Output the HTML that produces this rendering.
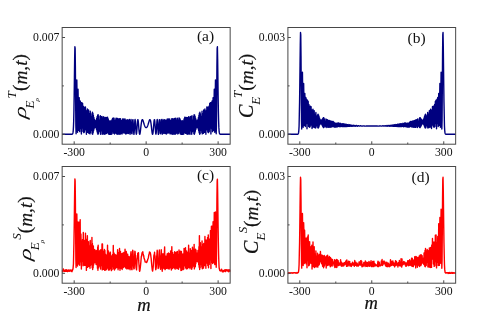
<!DOCTYPE html>
<html><head><meta charset="utf-8"><title>figure</title>
<style>
html,body{margin:0;padding:0;background:#fff;}
body{width:480px;height:333px;overflow:hidden;font-family:"Liberation Serif",serif;}
svg{display:block;will-change:transform;}
text{font-family:"Liberation Serif",serif;fill:#111;}
.tl{font-size:13.2px;}
.tag{font-size:15.5px;}
.xl{font-size:18.5px;font-style:italic;stroke:#111;stroke-width:0.2px;}
.yl{font-size:19.3px;font-style:italic;stroke:#111;stroke-width:0.2px;}
.ys{font-size:13px;font-style:italic;}
.yss{font-size:7px;font-style:italic;}
.up{font-style:normal;}
</style></head><body>
<svg width="480" height="333" viewBox="0 0 480 333">
<rect width="480" height="333" fill="#fff"/>
<polyline points="62.15,134.3 62.42,134.3 62.66,134.3 62.9,134.3 63.14,134.3 63.38,134.3 63.62,134.3 63.86,134.3 64.1,134.3 64.34,134.3 64.58,134.3 64.82,134.3 65.06,134.3 65.3,134.3 65.54,134.3 65.78,134.3 66.02,134.3 66.26,134.3 66.5,134.3 66.74,134.3 66.98,134.3 67.22,134.3 67.46,134.3 67.7,134.3 67.94,134.3 68.18,134.3 68.42,134.3 68.66,134.3 68.9,134.3 69.14,134.3 69.38,134.3 69.62,134.3 69.86,134.3 70.1,134.3 70.34,134.3 70.58,134.3 70.82,134.3 71.06,134.3 71.3,134.3 71.54,134.3 71.78,134.29 72.02,134.26 72.26,134.19 72.5,134.02 72.74,133.6 72.98,132.69 73.22,130.79 73.46,127.14 73.7,120.67 73.94,110.28 74.18,95.41 74.42,77.03 74.66,58.73 74.9,46.81 75.14,48.4 75.38,67.02 75.62,97.6 75.86,125.52 76.1,133.85 76.34,117.11 76.58,90.3 76.82,79.9 77.06,98.36 77.3,126.78 77.54,132.26 77.78,108.67 78.02,89.21 78.26,103.2 78.5,130.34 78.74,128.01 78.98,101.1 79.22,97.82 79.46,124.95 79.7,131.62 79.94,105.65 80.18,100.99 80.42,128.01 80.66,128.52 80.9,102.4 81.14,110.61 81.38,134.04 81.62,116.54 81.86,102.65 82.1,128.07 82.34,127.04 82.58,103.34 82.82,121.75 83.06,131.54 83.3,106.09 83.54,118.97 83.78,132.67 84.02,107.48 84.26,119.84 84.5,131.98 84.74,107.17 84.98,123.88 85.22,128.92 85.46,107 85.7,129.92 85.94,122.15 86.18,110.6 86.41,134.21 86.65,112.98 86.89,120.71 87.13,130.38 87.37,108.96 87.61,132.39 87.85,117.3 88.09,118.74 88.33,131.3 88.57,109.96 88.81,133.24 89.05,115.3 89.29,123.55 89.53,126.92 89.77,113.57 90.01,133.89 90.25,111.16 90.49,132.49 90.73,116.12 90.97,125.78 91.21,123.92 91.45,118.54 91.69,130.38 91.93,113.82 92.17,133.74 92.41,112.28 92.65,134.19 92.89,113.12 93.13,132.85 93.37,115.14 93.61,130.85 93.85,117.38 94.09,128.97 94.33,119.24 94.57,127.63 94.81,120.44 95.05,127 95.29,120.9 95.53,127.11 95.77,120.61 96.01,127.95 96.25,119.63 96.49,129.4 96.73,118.12 96.97,131.25 97.21,116.38 97.45,133.09 97.69,114.96 97.93,134.22 98.17,114.65 98.41,133.8 98.65,116.31 98.89,131.09 99.13,120.4 99.37,126.06 99.61,126.34 99.85,120.03 100.09,132.03 100.33,115.79 100.57,134.28 100.81,116.4 101.05,130.83 101.29,122.67 101.53,122.94 101.77,130.92 102.01,116.41 102.25,134.23 102.49,117.71 102.73,128.52 102.97,126.76 103.21,118.9 103.45,134.07 103.69,116.79 103.93,130.05 104.17,126.01 104.41,119.22 104.65,134.19 104.89,117.65 105.13,128.24 105.37,128.83 105.61,117.37 105.85,133.85 106.09,121.41 106.33,122.8 106.57,133.4 106.81,117.35 107.05,128.73 107.29,129.62 107.53,117.12 107.77,132.47 108.01,125.57 108.25,118.88 108.49,134 108.73,122.69 108.97,120.87 109.21,134.3 109.45,121.18 109.69,122.16 109.93,134.25 110.17,120.79 110.4,122.42 110.64,134.27 110.88,121.35 111.12,121.64 111.36,134.27 111.6,122.98 111.84,120.06 112.08,133.72 112.32,125.84 112.56,118.35 112.8,131.73 113.04,129.72 113.28,117.87 113.52,127.63 113.76,133.32 114,120.31 114.24,122.09 114.48,134.04 114.72,126.23 114.96,118.21 115.2,129.59 115.44,132.73 115.68,120.29 115.92,121.77 116.16,133.58 116.4,128.51 116.64,118.31 116.88,125.89 117.12,134.29 117.36,125.24 117.6,118.48 117.84,128.32 118.08,133.96 118.32,123.86 118.56,118.83 118.8,128.88 119.04,133.94 119.28,124.28 119.52,118.7 119.76,127.68 120,134.27 120.24,126.48 120.48,118.64 120.72,124.67 120.96,133.79 121.2,130.3 121.44,120.38 121.68,120.65 121.92,130.46 122.16,133.89 122.4,125.68 122.64,118.83 122.88,123.74 123.12,132.81 123.36,132.65 123.6,123.74 123.84,118.89 124.08,124.73 124.32,133.06 124.56,132.73 124.8,124.41 125.04,118.98 125.28,123.17 125.52,131.58 125.76,133.99 126,127.74 126.24,120.3 126.48,120.09 126.72,127.13 126.96,133.62 127.2,132.76 127.44,125.67 127.68,119.69 127.92,120.64 128.16,127.4 128.4,133.45 128.64,133.33 128.88,127.37 129.12,120.93 129.36,119.46 129.6,123.98 129.84,130.67 130.08,134.25 130.32,132.15 130.56,126.15 130.8,120.68 131.04,119.5 131.28,123.22 131.52,129.22 131.76,133.62 132,133.8 132.24,129.85 132.48,124.24 132.72,120.14 132.96,119.68 133.2,122.91 133.44,128.05 133.68,132.53 133.92,134.3 134.16,132.73 134.39,128.67 134.63,123.95 134.87,120.47 135.11,119.48 135.35,121.21 135.59,124.87 135.83,129.13 136.07,132.58 136.31,134.23 136.55,133.71 136.79,131.32 137.03,127.83 137.27,124.2 137.51,121.29 137.75,119.73 137.99,119.72 138.23,121.16 138.47,123.64 138.71,126.63 138.95,129.57 139.19,132.01 139.43,133.63 139.67,134.29 139.91,133.99 140.15,132.88 140.39,131.17 140.63,129.1 140.87,126.93 141.11,124.85 141.35,123.02 141.59,121.56 141.83,120.5 142.07,119.87 142.31,119.61 142.55,119.7 142.79,120.06 143.03,120.63 143.27,121.34 143.51,122.13 143.75,122.95 143.99,123.76 144.23,124.53 144.47,125.23 144.71,125.86 144.95,126.39 145.19,126.83 145.43,127.17 145.67,127.42 145.91,127.57 146.15,127.61 146.39,127.57 146.63,127.42 146.87,127.17 147.11,126.83 147.35,126.39 147.59,125.86 147.83,125.23 148.07,124.53 148.31,123.76 148.55,122.95 148.79,122.13 149.03,121.34 149.27,120.63 149.51,120.06 149.75,119.7 149.99,119.61 150.23,119.87 150.47,120.5 150.71,121.56 150.95,123.02 151.19,124.85 151.43,126.93 151.67,129.1 151.91,131.17 152.15,132.88 152.39,133.99 152.63,134.29 152.87,133.63 153.11,132.01 153.35,129.57 153.59,126.63 153.83,123.64 154.07,121.16 154.31,119.72 154.55,119.73 154.79,121.29 155.03,124.2 155.27,127.83 155.51,131.32 155.75,133.71 155.99,134.23 156.23,132.58 156.47,129.13 156.71,124.87 156.95,121.21 157.19,119.48 157.43,120.47 157.67,123.95 157.91,128.67 158.15,132.73 158.38,134.3 158.62,132.53 158.86,128.05 159.1,122.91 159.34,119.68 159.58,120.14 159.82,124.24 160.06,129.85 160.3,133.8 160.54,133.62 160.78,129.22 161.02,123.22 161.26,119.5 161.5,120.68 161.74,126.15 161.98,132.15 162.22,134.25 162.46,130.67 162.7,123.98 162.94,119.46 163.18,120.93 163.42,127.37 163.66,133.33 163.9,133.45 164.14,127.4 164.38,120.64 164.62,119.69 164.86,125.67 165.1,132.76 165.34,133.62 165.58,127.13 165.82,120.09 166.06,120.3 166.3,127.74 166.54,133.99 166.78,131.58 167.02,123.17 167.26,118.98 167.5,124.41 167.74,132.73 167.98,133.06 168.22,124.73 168.46,118.89 168.7,123.74 168.94,132.65 169.18,132.81 169.42,123.74 169.66,118.83 169.9,125.68 170.14,133.89 170.38,130.46 170.62,120.65 170.86,120.38 171.1,130.3 171.34,133.79 171.58,124.67 171.82,118.64 172.06,126.48 172.3,134.27 172.54,127.68 172.78,118.7 173.02,124.28 173.26,133.94 173.5,128.88 173.74,118.83 173.98,123.86 174.22,133.96 174.46,128.32 174.7,118.48 174.94,125.24 175.18,134.29 175.42,125.89 175.66,118.31 175.9,128.51 176.14,133.58 176.38,121.77 176.62,120.29 176.86,132.73 177.1,129.59 177.34,118.21 177.58,126.23 177.82,134.04 178.06,122.09 178.3,120.31 178.54,133.32 178.78,127.63 179.02,117.87 179.26,129.72 179.5,131.73 179.74,118.35 179.98,125.84 180.22,133.72 180.46,120.06 180.7,122.98 180.94,134.27 181.18,121.64 181.42,121.35 181.66,134.27 181.9,122.42 182.13,120.79 182.37,134.25 182.61,122.16 182.85,121.18 183.09,134.3 183.33,120.87 183.57,122.69 183.81,134 184.05,118.88 184.29,125.57 184.53,132.47 184.77,117.12 185.01,129.62 185.25,128.73 185.49,117.35 185.73,133.4 185.97,122.8 186.21,121.41 186.45,133.85 186.69,117.37 186.93,128.83 187.17,128.24 187.41,117.65 187.65,134.19 187.89,119.22 188.13,126.01 188.37,130.05 188.61,116.79 188.85,134.07 189.09,118.9 189.33,126.76 189.57,128.52 189.81,117.71 190.05,134.23 190.29,116.41 190.53,130.92 190.77,122.94 191.01,122.67 191.25,130.83 191.49,116.4 191.73,134.28 191.97,115.79 192.21,132.03 192.45,120.03 192.69,126.34 192.93,126.06 193.17,120.4 193.41,131.09 193.65,116.31 193.89,133.8 194.13,114.65 194.37,134.22 194.61,114.96 194.85,133.09 195.09,116.38 195.33,131.25 195.57,118.12 195.81,129.4 196.05,119.63 196.29,127.95 196.53,120.61 196.77,127.11 197.01,120.9 197.25,127 197.49,120.44 197.73,127.63 197.97,119.24 198.21,128.97 198.45,117.38 198.69,130.85 198.93,115.14 199.17,132.85 199.41,113.12 199.65,134.19 199.89,112.28 200.13,133.74 200.37,113.82 200.61,130.38 200.85,118.54 201.09,123.92 201.33,125.78 201.57,116.12 201.81,132.49 202.05,111.16 202.29,133.89 202.53,113.57 202.77,126.92 203.01,123.55 203.25,115.3 203.49,133.24 203.73,109.96 203.97,131.3 204.21,118.74 204.45,117.3 204.69,132.39 204.93,108.96 205.17,130.38 205.41,120.71 205.65,112.98 205.89,134.21 206.12,110.6 206.36,122.15 206.6,129.92 206.84,107 207.08,128.92 207.32,123.88 207.56,107.17 207.8,131.98 208.04,119.84 208.28,107.48 208.52,132.67 208.76,118.97 209,106.09 209.24,131.54 209.48,121.75 209.72,103.34 209.96,127.04 210.2,128.07 210.44,102.65 210.68,116.54 210.92,134.04 211.16,110.61 211.4,102.4 211.64,128.52 211.88,128.01 212.12,100.99 212.36,105.65 212.6,131.62 212.84,124.95 213.08,97.82 213.32,101.1 213.56,128.01 213.8,130.34 214.04,103.2 214.28,89.21 214.52,108.67 214.76,132.26 215,126.78 215.24,98.36 215.48,79.9 215.72,90.3 215.96,117.11 216.2,133.85 216.44,125.52 216.68,97.6 216.92,67.02 217.16,48.4 217.4,46.81 217.64,58.73 217.88,77.03 218.12,95.41 218.36,110.28 218.6,120.67 218.84,127.14 219.08,130.79 219.32,132.69 219.56,133.6 219.8,134.02 220.04,134.19 220.28,134.26 220.52,134.29 220.76,134.3 221,134.3 221.24,134.3 221.48,134.3 221.72,134.3 221.96,134.3 222.2,134.3 222.44,134.3 222.68,134.3 222.92,134.3 223.16,134.3 223.4,134.3 223.64,134.3 223.88,134.3 224.12,134.3 224.36,134.3 224.6,134.3 224.84,134.3 225.08,134.3 225.32,134.3 225.56,134.3 225.8,134.3 226.04,134.3 226.28,134.3 226.52,134.3 226.76,134.3 227,134.3 227.24,134.3 227.48,134.3 227.72,134.3 227.96,134.3 228.2,134.3 228.44,134.3 228.68,134.3 228.92,134.3 229.16,134.3 229.4,134.3 229.64,134.3 229.88,134.3 230.15,134.3" fill="none" stroke="#00007f" stroke-width="1.4" stroke-linejoin="round"/>
<rect x="62.15" y="27.5" width="168" height="116.7" fill="none" stroke="#484848" stroke-width="1"/>
<path d="M62.15 37.5h2.9M62.15 134.3h2.9M62.15 85.9h1.7M74.18 144.2v-2.9M146.15 144.2v-2.9M218.12 144.2v-2.9M110.17 144.2v-1.7M182.13 144.2v-1.7" stroke="#484848" stroke-width="1" fill="none"/>
<text transform="translate(74.18,155.5) scale(0.89,1)" class="tl" text-anchor="middle">-300</text>
<text transform="translate(146.15,155.5) scale(0.89,1)" class="tl" text-anchor="middle">0</text>
<text transform="translate(218.12,155.5) scale(0.89,1)" class="tl" text-anchor="middle">300</text>
<text transform="translate(59.45,41.2) scale(0.89,1)" class="tl" text-anchor="end">0.007</text>
<text transform="translate(59.45,137.8) scale(0.89,1)" class="tl" text-anchor="end">0.000</text>
<text x="196.9" y="40.6" class="tag">(a)</text>
<polyline points="287.9,134.3 288.05,134.3 288.29,134.3 288.53,134.3 288.77,134.3 289.01,134.3 289.25,134.3 289.49,134.3 289.73,134.3 289.97,134.3 290.21,134.3 290.45,134.3 290.69,134.3 290.93,134.3 291.17,134.3 291.41,134.3 291.65,134.3 291.89,134.3 292.13,134.3 292.37,134.3 292.61,134.3 292.85,134.3 293.09,134.3 293.33,134.3 293.57,134.3 293.81,134.3 294.05,134.3 294.29,134.3 294.53,134.3 294.77,134.3 295.01,134.3 295.25,134.3 295.49,134.3 295.73,134.3 295.97,134.3 296.21,134.3 296.45,134.3 296.69,134.3 296.93,134.3 297.17,134.29 297.41,134.28 297.65,134.25 297.89,134.17 298.13,133.96 298.37,133.48 298.61,132.41 298.85,130.22 299.09,126.03 299.33,114.04 299.57,102.28 299.8,85.61 300.04,65.22 300.28,45.19 300.52,32.52 300.76,34.9 301,55.88 301.24,89.6 301.48,119.98 301.72,128.96 301.96,111.11 302.2,82.86 302.44,72.24 302.68,91.86 302.92,121.53 303.16,127.2 303.4,103.1 303.64,83.53 303.88,97.91 304.12,125.24 304.36,122.94 304.6,96.43 304.84,93.44 305.08,120.03 305.32,126.51 305.56,101.63 305.8,97.38 306.04,123.1 306.28,123.59 306.52,99.31 306.76,107.09 307,128.71 307.24,112.77 307.48,100.32 307.72,123.3 307.96,122.41 308.2,101.5 308.44,117.82 308.68,126.4 308.92,104.43 309.16,115.63 309.4,127.36 309.64,106.09 309.88,116.6 310.12,126.75 310.36,106.3 310.6,120.11 310.84,124.25 311.08,106.63 311.32,125.08 311.56,118.93 311.8,109.91 312.04,128.44 312.28,112.01 312.52,118.06 312.76,125.47 313,109.31 313.24,126.99 313.48,115.78 313.72,116.92 313.96,126.17 314.2,110.71 314.44,127.56 314.68,114.78 314.92,120.7 315.16,123.1 315.4,113.85 315.64,127.95 315.88,112.42 316.12,126.97 316.36,115.98 316.6,122.49 316.84,121.29 317.08,117.82 317.32,125.57 317.56,114.93 317.8,127.71 318.04,114.16 318.28,127.97 318.52,114.89 318.76,127.11 319,116.32 319.24,125.88 319.48,117.84 319.72,124.77 319.96,119.08 320.2,124.02 320.44,119.9 320.68,123.7 320.92,120.27 321.16,123.81 321.4,120.22 321.64,124.31 321.88,119.8 322.12,125.12 322.36,119.11 322.6,126.12 322.84,118.34 323.08,127.07 323.32,117.76 323.56,127.63 323.79,117.77 324.03,127.39 324.27,118.75 324.51,126.03 324.75,120.87 324.99,123.63 325.23,123.79 325.47,120.86 325.71,126.47 325.95,119.02 326.19,127.49 326.43,119.44 326.67,125.92 326.91,122.34 327.15,122.5 327.39,125.97 327.63,119.79 327.87,127.36 328.11,120.47 328.35,124.98 328.59,124.28 328.83,121.13 329.07,127.23 329.31,120.41 329.55,125.64 329.79,124.09 330.03,121.52 330.27,127.21 330.51,121.04 330.75,125 330.99,125.22 331.23,121.12 331.47,127.02 331.71,122.65 331.95,123.17 332.19,126.84 332.43,121.4 332.67,125.26 332.91,125.56 333.15,121.5 333.39,126.49 333.63,124.29 333.87,122.22 334.11,126.95 334.35,123.48 334.59,122.96 334.83,127.01 335.07,123.13 335.31,123.46 335.55,126.96 335.79,123.14 336.03,123.63 336.27,126.93 336.51,123.41 336.75,123.52 336.99,126.89 337.23,123.94 337.47,123.22 337.71,126.72 337.95,124.74 338.19,122.92 338.43,126.21 338.67,125.73 338.91,122.94 339.15,125.25 339.39,126.57 339.63,123.62 339.87,124.05 340.11,126.7 340.35,125.01 340.59,123.32 340.83,125.74 341.07,126.39 341.31,123.87 341.55,124.2 341.79,126.55 342.03,125.56 342.27,123.63 342.51,125.08 342.75,126.65 342.99,125 343.23,123.81 343.47,125.57 343.71,126.55 343.95,124.84 344.19,124.02 344.43,125.7 344.67,126.52 344.91,124.99 345.15,124.14 345.39,125.54 345.63,126.54 345.87,125.39 346.11,124.27 346.35,125.15 346.59,126.44 346.83,125.95 347.07,124.63 347.31,124.7 347.55,125.98 347.78,126.41 348.02,125.4 348.26,124.58 348.5,125.19 348.74,126.26 348.98,126.24 349.22,125.25 349.46,124.74 349.7,125.39 349.94,126.27 350.18,126.23 350.42,125.4 350.66,124.89 350.9,125.31 351.14,126.11 351.38,126.33 351.62,125.77 351.86,125.13 352.1,125.14 352.34,125.74 352.58,126.27 352.82,126.2 353.06,125.65 353.3,125.22 353.54,125.31 353.78,125.81 354.02,126.23 354.26,126.22 354.5,125.82 354.74,125.42 354.98,125.35 355.22,125.64 355.46,126.04 355.7,126.25 355.94,126.13 356.18,125.81 356.42,125.53 356.66,125.49 356.9,125.69 357.14,125.98 357.38,126.18 357.62,126.19 357.86,126.02 358.1,125.79 358.34,125.64 358.58,125.64 358.82,125.77 359.06,125.96 359.3,126.12 359.54,126.17 359.78,126.12 360.02,126 360.26,125.86 360.5,125.77 360.74,125.76 360.98,125.82 361.22,125.92 361.46,126.02 361.7,126.1 361.94,126.14 362.18,126.12 362.42,126.08 362.66,126.01 362.9,125.95 363.14,125.91 363.38,125.9 363.62,125.91 363.86,125.93 364.1,125.98 364.34,126.02 364.58,126.05 364.82,126.08 365.06,126.1 365.3,126.1 365.54,126.1 365.78,126.09 366.02,126.07 366.26,126.06 366.5,126.05 366.74,126.04 366.98,126.03 367.22,126.03 367.46,126.03 367.7,126.03 367.94,126.03 368.18,126.04 368.42,126.04 368.66,126.05 368.9,126.05 369.14,126.06 369.38,126.06 369.62,126.06 369.86,126.07 370.1,126.07 370.34,126.07 370.58,126.07 370.82,126.07 371.06,126.07 371.3,126.07 371.54,126.07 371.77,126.07 372.01,126.07 372.25,126.07 372.49,126.07 372.73,126.07 372.97,126.07 373.21,126.07 373.45,126.07 373.69,126.07 373.93,126.06 374.17,126.06 374.41,126.06 374.65,126.05 374.89,126.05 375.13,126.04 375.37,126.04 375.61,126.03 375.85,126.03 376.09,126.03 376.33,126.03 376.57,126.03 376.81,126.04 377.05,126.05 377.29,126.06 377.53,126.07 377.77,126.09 378.01,126.1 378.25,126.1 378.49,126.1 378.73,126.08 378.97,126.05 379.21,126.02 379.45,125.98 379.69,125.93 379.93,125.91 380.17,125.9 380.41,125.91 380.65,125.95 380.89,126.01 381.13,126.08 381.37,126.12 381.61,126.14 381.85,126.1 382.09,126.02 382.33,125.92 382.57,125.82 382.81,125.76 383.05,125.77 383.29,125.86 383.53,126 383.77,126.12 384.01,126.17 384.25,126.12 384.49,125.96 384.73,125.77 384.97,125.64 385.21,125.64 385.45,125.79 385.69,126.02 385.93,126.19 386.17,126.18 386.41,125.98 386.65,125.69 386.89,125.49 387.13,125.53 387.37,125.81 387.61,126.13 387.85,126.25 388.09,126.04 388.33,125.64 388.57,125.35 388.81,125.42 389.05,125.82 389.29,126.22 389.53,126.23 389.77,125.81 390.01,125.31 390.25,125.22 390.49,125.65 390.73,126.2 390.97,126.27 391.21,125.74 391.45,125.14 391.69,125.13 391.93,125.77 392.17,126.33 392.41,126.11 392.65,125.31 392.89,124.89 393.13,125.4 393.37,126.23 393.61,126.27 393.85,125.39 394.09,124.74 394.33,125.25 394.57,126.24 394.81,126.26 395.05,125.19 395.29,124.58 395.53,125.4 395.76,126.41 396,125.98 396.24,124.7 396.48,124.63 396.72,125.95 396.96,126.44 397.2,125.15 397.44,124.27 397.68,125.39 397.92,126.54 398.16,125.54 398.4,124.14 398.64,124.99 398.88,126.52 399.12,125.7 399.36,124.02 399.6,124.84 399.84,126.55 400.08,125.57 400.32,123.81 400.56,125 400.8,126.65 401.04,125.08 401.28,123.63 401.52,125.56 401.76,126.55 402,124.2 402.24,123.87 402.48,126.39 402.72,125.74 402.96,123.32 403.2,125.01 403.44,126.7 403.68,124.05 403.92,123.62 404.16,126.57 404.4,125.25 404.64,122.94 404.88,125.73 405.12,126.21 405.36,122.92 405.6,124.74 405.84,126.72 406.08,123.22 406.32,123.94 406.56,126.89 406.8,123.52 407.04,123.41 407.28,126.93 407.52,123.63 407.76,123.14 408,126.96 408.24,123.46 408.48,123.13 408.72,127.01 408.96,122.96 409.2,123.48 409.44,126.95 409.68,122.22 409.92,124.29 410.16,126.49 410.4,121.5 410.64,125.56 410.88,125.26 411.12,121.4 411.36,126.84 411.6,123.17 411.84,122.65 412.08,127.02 412.32,121.12 412.56,125.22 412.8,125 413.04,121.04 413.28,127.21 413.52,121.52 413.76,124.09 414,125.64 414.24,120.41 414.48,127.23 414.72,121.13 414.96,124.28 415.2,124.98 415.44,120.47 415.68,127.36 415.92,119.79 416.16,125.97 416.4,122.5 416.64,122.34 416.88,125.92 417.12,119.44 417.36,127.49 417.6,119.02 417.84,126.47 418.08,120.86 418.32,123.79 418.56,123.63 418.8,120.87 419.04,126.03 419.28,118.75 419.52,127.39 419.75,117.77 419.99,127.63 420.23,117.76 420.47,127.07 420.71,118.34 420.95,126.12 421.19,119.11 421.43,125.12 421.67,119.8 421.91,124.31 422.15,120.22 422.39,123.81 422.63,120.27 422.87,123.7 423.11,119.9 423.35,124.02 423.59,119.08 423.83,124.77 424.07,117.84 424.31,125.88 424.55,116.32 424.79,127.11 425.03,114.89 425.27,127.97 425.51,114.16 425.75,127.71 425.99,114.93 426.23,125.57 426.47,117.82 426.71,121.29 426.95,122.49 427.19,115.98 427.43,126.97 427.67,112.42 427.91,127.95 428.15,113.85 428.39,123.1 428.63,120.7 428.87,114.78 429.11,127.56 429.35,110.71 429.59,126.17 429.83,116.92 430.07,115.78 430.31,126.99 430.55,109.31 430.79,125.47 431.03,118.06 431.27,112.01 431.51,128.44 431.75,109.91 431.99,118.93 432.23,125.08 432.47,106.63 432.71,124.25 432.95,120.11 433.19,106.3 433.43,126.75 433.67,116.6 433.91,106.09 434.15,127.36 434.39,115.63 434.63,104.43 434.87,126.4 435.11,117.82 435.35,101.5 435.59,122.41 435.83,123.3 436.07,100.32 436.31,112.77 436.55,128.71 436.79,107.09 437.03,99.31 437.27,123.59 437.51,123.1 437.75,97.38 437.99,101.63 438.23,126.51 438.47,120.03 438.71,93.44 438.95,96.43 439.19,122.94 439.43,125.24 439.67,97.91 439.91,83.53 440.15,103.1 440.39,127.2 440.63,121.53 440.87,91.86 441.11,72.24 441.35,82.86 441.59,111.11 441.83,128.96 442.07,119.98 442.31,89.6 442.55,55.88 442.79,34.9 443.03,32.52 443.27,45.19 443.51,65.22 443.75,85.61 443.98,102.28 444.22,114.04 444.46,126.03 444.7,130.22 444.94,132.41 445.18,133.48 445.42,133.96 445.66,134.17 445.9,134.25 446.14,134.28 446.38,134.29 446.62,134.3 446.86,134.3 447.1,134.3 447.34,134.3 447.58,134.3 447.82,134.3 448.06,134.3 448.3,134.3 448.54,134.3 448.78,134.3 449.02,134.3 449.26,134.3 449.5,134.3 449.74,134.3 449.98,134.3 450.22,134.3 450.46,134.3 450.7,134.3 450.94,134.3 451.18,134.3 451.42,134.3 451.66,134.3 451.9,134.3 452.14,134.3 452.38,134.3 452.62,134.3 452.86,134.3 453.1,134.3 453.34,134.3 453.58,134.3 453.82,134.3 454.06,134.3 454.3,134.3 454.54,134.3 454.78,134.3 455.02,134.3 455.26,134.3 455.5,134.3 455.65,134.3" fill="none" stroke="#00007f" stroke-width="1.4" stroke-linejoin="round"/>
<rect x="287.9" y="27.5" width="167.75" height="116.7" fill="none" stroke="#484848" stroke-width="1"/>
<path d="M287.9 37.5h2.9M287.9 134.3h2.9M287.9 85.9h1.7M299.8 144.2v-2.9M371.77 144.2v-2.9M443.75 144.2v-2.9M335.79 144.2v-1.7M407.76 144.2v-1.7" stroke="#484848" stroke-width="1" fill="none"/>
<text transform="translate(299.8,155.5) scale(0.89,1)" class="tl" text-anchor="middle">-300</text>
<text transform="translate(371.77,155.5) scale(0.89,1)" class="tl" text-anchor="middle">0</text>
<text transform="translate(443.75,155.5) scale(0.89,1)" class="tl" text-anchor="middle">300</text>
<text transform="translate(285.2,41.2) scale(0.89,1)" class="tl" text-anchor="end">0.003</text>
<text transform="translate(285.2,137.8) scale(0.89,1)" class="tl" text-anchor="end">0.000</text>
<text x="407.5" y="42.9" class="tag">(b)</text>
<polyline points="62.15,270.46 62.42,270.46 62.66,271.81 62.9,270.9 63.14,270.44 63.38,268.84 63.62,271.1 63.86,270.88 64.1,270.36 64.34,270.49 64.58,271.4 64.82,270.15 65.06,271.4 65.3,270.82 65.54,269.94 65.78,271.4 66.02,270.86 66.26,269.75 66.5,270.82 66.74,271.25 66.98,270.99 67.22,270.21 67.46,271.54 67.7,271.02 67.94,271.48 68.18,271.31 68.42,269.96 68.66,270.72 68.9,270.92 69.14,270.44 69.38,271.07 69.62,271.34 69.86,270.04 70.1,270.19 70.34,271.14 70.58,270.28 70.82,269.86 71.06,270.4 71.3,270.39 71.54,271.36 71.78,270.73 72.02,271.67 72.26,269.95 72.5,270.47 72.74,269.18 72.98,269.26 73.22,266.62 73.46,263.72 73.7,252.8 73.94,243.06 74.18,228.15 74.42,209.77 74.66,191.87 74.9,178.86 75.14,180.76 75.38,199.5 75.62,230.52 75.86,259.37 76.1,267.59 76.34,248.91 76.58,220.06 76.82,213.92 77.06,226.65 77.3,259.11 77.54,265.97 77.78,237.34 78.02,222.04 78.26,236.38 78.5,263.99 78.74,261.97 78.98,232.75 79.22,222.22 79.46,256.35 79.7,265.2 79.94,233.69 80.18,219.81 80.42,260.07 80.66,261.88 80.9,234.06 81.14,243.32 81.38,269.1 81.62,245.99 81.86,241.35 82.1,261 82.34,256.99 82.58,239.37 82.82,256.34 83.06,265.73 83.3,232.41 83.54,254.63 83.78,264.92 84.02,240.27 84.26,251.86 84.5,265.4 84.74,242.56 84.98,256.77 85.22,261.7 85.46,233.13 85.7,265.38 85.94,251.59 86.18,239.32 86.41,270.38 86.65,244.47 86.89,257.47 87.13,264.86 87.37,235.65 87.61,267.42 87.85,246.93 88.09,247.02 88.33,265.48 88.57,241.65 88.81,266.33 89.05,252.35 89.29,259.22 89.53,259.39 89.77,245.67 90.01,268.2 90.25,240.42 90.49,265.42 90.73,244.58 90.97,259.31 91.21,259.74 91.45,250.55 91.69,264.45 91.93,237.34 92.17,267.7 92.41,243.51 92.65,269.58 92.89,245.86 93.13,267.69 93.37,245.98 93.61,265.08 93.85,249.29 94.09,263.05 94.33,254.44 94.57,262.81 94.81,249.8 95.05,259.17 95.29,255.27 95.53,262.31 95.77,254.19 96.01,264.31 96.25,250.52 96.49,264.33 96.73,250.76 96.97,265.09 97.21,250.71 97.45,268.19 97.69,247.01 97.93,270.23 98.17,245.19 98.41,267.89 98.65,251.42 98.89,267.06 99.13,256.01 99.37,261.64 99.61,258.17 99.85,250.33 100.09,265.72 100.33,252.22 100.57,269.05 100.81,249.76 101.05,265.52 101.29,256.57 101.53,258.37 101.77,264.36 102.01,244 102.25,269.87 102.49,244.02 102.73,264.23 102.97,259.72 103.21,252.66 103.45,269.21 103.69,251.19 103.93,264.34 104.17,260.97 104.41,249.42 104.65,270.35 104.89,250.33 105.13,263.05 105.37,261.63 105.61,254.18 105.85,270.13 106.09,254.88 106.33,255.81 106.57,269.2 106.81,255.65 107.05,264.14 107.29,262.61 107.53,245.22 107.77,268.09 108.01,261.33 108.25,250.67 108.49,270.04 108.73,260.72 108.97,253.66 109.21,270.13 109.45,255.75 109.69,252.91 109.93,269.04 110.17,252.07 110.4,252.54 110.64,268.58 110.88,258.97 111.12,256.05 111.36,270.66 111.6,258.19 111.84,256.06 112.08,269.66 112.32,263.06 112.56,254.39 112.8,266.65 113.04,264.55 113.28,245.51 113.52,261.61 113.76,268.91 114,252.92 114.24,256.23 114.48,270.08 114.72,260.81 114.96,254.47 115.2,264.02 115.44,268.64 115.68,255.55 115.92,254.94 116.16,267.45 116.4,261.87 116.64,256.01 116.88,259.54 117.12,267.43 117.36,259.35 117.6,249.74 117.84,263.54 118.08,269.68 118.32,256.9 118.56,252.7 118.8,263 119.04,268.1 119.28,256.45 119.52,248.48 119.76,261.93 120,270.23 120.24,258.39 120.48,251.45 120.72,258.47 120.96,268.33 121.2,266.16 121.44,255.99 121.68,253.73 121.92,264.67 122.16,269.44 122.4,258.55 122.64,253.19 122.88,258.77 123.12,267.76 123.36,267.33 123.6,259.49 123.84,252.35 124.08,259.99 124.32,266.72 124.56,266.35 124.8,257.23 125.04,249.17 125.28,253.83 125.52,267.31 125.76,268.1 126,262.63 126.24,251.43 126.48,253.43 126.72,259.59 126.96,268.95 127.2,266.46 127.44,260.26 127.68,254.32 127.92,257.45 128.16,260.71 128.4,268.64 128.64,268.8 128.88,261.06 129.12,256.44 129.36,257.32 129.6,258.07 129.84,266.76 130.08,269.79 130.32,267.54 130.56,260.35 130.8,253.36 131.04,251.58 131.28,256.65 131.52,264.17 131.76,269.59 132,269.74 132.24,264.15 132.48,258.44 132.72,250.25 132.96,251.36 133.2,255.05 133.44,263.91 133.68,267.13 133.92,268.97 134.16,268.63 134.39,263.11 134.63,256.85 134.87,251.25 135.11,251.87 135.35,256.27 135.59,255.5 135.83,264.93 136.07,267.57 136.31,268.48 136.55,269.84 136.79,265.48 137.03,260.8 137.27,258.28 137.51,257.46 137.75,253.31 137.99,254.83 138.23,254.04 138.47,252.72 138.71,260.92 138.95,264.19 139.19,266.95 139.43,270.55 139.67,271.27 139.91,270.53 140.15,268.65 140.39,266.63 140.63,264.39 140.87,261.85 141.11,258.98 141.35,256.19 141.59,256.16 141.83,254.25 142.07,252.8 142.31,252.76 142.55,253.35 142.79,251.81 143.03,253.67 143.27,254.33 143.51,255.83 143.75,255.7 143.99,258.1 144.23,258.28 144.47,259.47 144.71,259.73 144.95,261.12 145.19,261.93 145.43,262.13 145.67,262.04 145.91,262.08 146.15,262.24 146.39,262.23 146.63,262.5 146.87,261.48 147.11,261.53 147.35,260.52 147.59,260.18 147.83,259.01 148.07,258.6 148.31,257.96 148.55,256.49 148.79,255.25 149.03,254.03 149.27,253.85 149.51,251.83 149.75,252.36 149.99,252.51 150.23,252.62 150.47,253.72 150.71,254.82 150.95,257 151.19,258.58 151.43,261.73 151.67,264.31 151.91,266.97 152.15,268.95 152.39,270.54 152.63,271.1 152.87,269.46 153.11,267.64 153.35,265.24 153.59,260.99 153.83,256 154.07,254.63 154.31,255.44 154.55,252.23 154.79,256.18 155.03,255.9 155.27,260.24 155.51,266.6 155.75,269.7 155.99,268.8 156.23,267.37 156.47,264.08 156.71,256.5 156.95,254.07 157.19,250.31 157.43,251.41 157.67,257.89 157.91,263.35 158.15,268.44 158.38,267.83 158.62,266.5 158.86,262.21 159.1,257.51 159.34,249.97 159.58,254.74 159.82,256.58 160.06,263.63 160.3,267.75 160.54,269.23 160.78,263.65 161.02,259.16 161.26,249.68 161.5,254.54 161.74,260.57 161.98,267.89 162.22,271.31 162.46,266.24 162.7,255.24 162.94,253.67 163.18,255.07 163.42,262.59 163.66,267.32 163.9,268.56 164.14,262.16 164.38,252.93 164.62,246.87 164.86,259.22 165.1,269.64 165.34,268.73 165.58,261.96 165.82,256.15 166.06,257.32 166.3,263.4 166.54,268.34 166.78,267.42 167.02,256.15 167.26,253.79 167.5,256.15 167.74,267.8 167.98,268.58 168.22,257.94 168.46,252.83 168.7,259.63 168.94,267.6 169.18,269.03 169.42,255.9 169.66,253.58 169.9,258.34 170.14,267.87 170.38,263.71 170.62,250.83 170.86,255.24 171.1,264.51 171.34,269.93 171.58,258.28 171.82,246.72 172.06,261.55 172.3,268.61 172.54,263.86 172.78,252.68 173.02,260.71 173.26,267.52 173.5,261.52 173.74,254.78 173.98,259.37 174.22,268.13 174.46,260.56 174.7,251.62 174.94,257.71 175.18,269.12 175.42,259.8 175.66,252.81 175.9,264.63 176.14,267.52 176.38,252.62 176.62,252.27 176.86,268.67 177.1,265 177.34,251.36 177.58,258.48 177.82,268.47 178.06,254.53 178.3,255.18 178.54,269.2 178.78,260.22 179.02,249.93 179.26,263.93 179.5,266.68 179.74,252.27 179.98,259.77 180.22,267.83 180.46,251.3 180.7,257.31 180.94,270.46 181.18,254.33 181.42,251.4 181.66,270.36 181.9,256.57 182.13,255.01 182.37,268.44 182.61,256.08 182.85,253.88 183.09,269.65 183.33,254.17 183.57,254.67 183.81,269.09 184.05,248.45 184.29,262.21 184.53,265.8 184.77,248.83 185.01,263.8 185.25,264.03 185.49,247.76 185.73,268.11 185.97,253.77 186.21,254.21 186.45,268.88 186.69,250.95 186.93,264.3 187.17,261.05 187.41,252.46 187.65,268.64 187.89,253.34 188.13,259.18 188.37,265.24 188.61,245.29 188.85,267.29 189.09,253.21 189.33,259.19 189.57,262.14 189.81,253.01 190.05,268.83 190.29,248.58 190.53,265.53 190.77,257.35 191.01,257.97 191.25,267.05 191.49,250.48 191.73,269.33 191.97,250.85 192.21,267.7 192.45,247.12 192.69,260.28 192.93,255.69 193.17,253.21 193.41,265.85 193.65,248.96 193.89,266.78 194.13,244.35 194.37,268.92 194.61,249.69 194.85,266.97 195.09,252.66 195.33,266.81 195.57,249.17 195.81,263.79 196.05,250.08 196.29,261.06 196.53,256.78 196.77,261.64 197.01,253.2 197.25,256.91 197.49,253.95 197.73,261.8 197.97,250.43 198.21,261.53 198.45,250.59 198.69,264.86 198.93,246.78 199.17,267.3 199.41,235.59 199.65,269.6 199.89,249.78 200.13,267.71 200.37,242.69 200.61,264.59 200.85,252.9 201.09,255.01 201.33,260.64 201.57,246.59 201.81,267.07 202.05,240.93 202.29,268.71 202.53,244.43 202.77,259.88 203.01,258.01 203.25,246.68 203.49,268.16 203.73,243.4 203.97,265.85 204.21,253.3 204.45,251.14 204.69,265.62 204.93,236.42 205.17,262.87 205.41,251.07 205.65,243.8 205.89,268.31 206.12,240.05 206.36,253.84 206.6,263.11 206.84,240.58 207.08,263.11 207.32,254.8 207.56,237.46 207.8,265.47 208.04,249.69 208.28,234.84 208.52,267.84 208.76,250.41 209,238.92 209.24,264.36 209.48,253.98 209.72,240.56 209.96,259.55 210.2,259.81 210.44,230.62 210.68,250.32 210.92,268.58 211.16,238.24 211.4,226.25 211.64,260.97 211.88,262.23 212.12,226.16 212.36,237.66 212.6,263.47 212.84,255.52 213.08,221.64 213.32,223.92 213.56,261.31 213.8,262.68 214.04,235.76 214.28,212.55 214.52,238.71 214.76,264.58 215,261.64 215.24,226.41 215.48,211.97 215.72,219.4 215.96,250.29 216.2,267.35 216.44,258.55 216.68,230.86 216.92,199.26 217.16,181.17 217.4,179.16 217.64,191.25 217.88,209.89 218.12,227.68 218.36,242.77 218.6,254.4 218.84,262.06 219.08,267.05 219.32,268.84 219.56,269.56 219.8,270.63 220.04,270.41 220.28,270.43 220.52,270.96 220.76,270.91 221,270.15 221.24,270.62 221.48,269.31 221.72,269.44 221.96,271.05 222.2,270.47 222.44,271.77 222.68,271.02 222.92,271.16 223.16,271.09 223.4,271.86 223.64,270.52 223.88,270.59 224.12,271.12 224.36,270.71 224.6,270.16 224.84,269.78 225.08,271.42 225.32,269.78 225.56,271.63 225.8,271.14 226.04,270.89 226.28,269.81 226.52,270.34 226.76,270.35 227,269.8 227.24,270.55 227.48,270.93 227.72,269.86 227.96,270.8 228.2,271.39 228.44,271.64 228.68,270.59 228.92,269.63 229.16,270.26 229.4,270.65 229.64,270 229.88,271.51 230.15,271.51" fill="none" stroke="#ff0000" stroke-width="1.4" stroke-linejoin="round"/>
<rect x="62.15" y="166.5" width="168" height="116.7" fill="none" stroke="#484848" stroke-width="1"/>
<path d="M62.15 176.5h2.9M62.15 273.3h2.9M62.15 224.9h1.7M74.18 283.2v-2.9M146.15 283.2v-2.9M218.12 283.2v-2.9M110.17 283.2v-1.7M182.13 283.2v-1.7" stroke="#484848" stroke-width="1" fill="none"/>
<text transform="translate(74.18,294.5) scale(0.89,1)" class="tl" text-anchor="middle">-300</text>
<text transform="translate(146.15,294.5) scale(0.89,1)" class="tl" text-anchor="middle">0</text>
<text transform="translate(218.12,294.5) scale(0.89,1)" class="tl" text-anchor="middle">300</text>
<text transform="translate(59.45,180.2) scale(0.89,1)" class="tl" text-anchor="end">0.007</text>
<text transform="translate(59.45,276.8) scale(0.89,1)" class="tl" text-anchor="end">0.000</text>
<text x="196.9" y="179.6" class="tag">(c)</text>
<text x="143.95" y="310.8" class="xl" text-anchor="middle">m</text>
<polyline points="287.9,272.67 288.05,272.67 288.29,273.28 288.53,273.03 288.77,273.5 289.01,272.95 289.25,272.86 289.49,272.99 289.73,273.12 289.97,272.82 290.21,272.79 290.45,272.88 290.69,273.05 290.93,272.9 291.17,272.89 291.41,272.85 291.65,272.77 291.89,272.92 292.13,273.24 292.37,272.97 292.61,272.83 292.85,273.01 293.09,272.86 293.33,273.07 293.57,272.61 293.81,272.82 294.05,272.88 294.29,272.74 294.53,272.74 294.77,272.89 295.01,272.69 295.25,272.76 295.49,272.86 295.73,272.91 295.97,273.16 296.21,272.87 296.45,272.87 296.69,273.1 296.93,272.6 297.17,272.91 297.41,273.14 297.65,272.96 297.89,272.8 298.13,272.59 298.37,272.28 298.61,271.05 298.85,268.97 299.09,264.42 299.33,253.3 299.57,243.1 299.8,227.37 300.04,208.15 300.28,189.26 300.52,177.31 300.76,179.55 301,199.33 301.24,231.13 301.48,259.78 301.72,268.16 301.96,250.2 302.2,223.17 302.44,213.49 302.68,229.83 302.92,258.38 303.16,265.49 303.4,240.19 303.64,222.63 303.88,230.06 304.12,260.63 304.36,263.43 304.6,230.2 304.84,239.54 305.08,257.01 305.32,262.23 305.56,241 305.8,238.32 306.04,263.78 306.28,260.74 306.52,238.13 306.76,248.07 307,267.8 307.24,247.09 307.48,236.91 307.72,257.59 307.96,260.47 308.2,235.04 308.44,256.12 308.68,265.71 308.92,243.28 309.16,256.92 309.4,264.93 309.64,241.59 309.88,256.75 310.12,262.3 310.36,246.73 310.6,256.89 310.84,263.24 311.08,246.75 311.32,262.22 311.56,257.78 311.8,245.22 312.04,268.98 312.28,251 312.52,257.97 312.76,262.8 313,242.03 313.24,266.59 313.48,256.13 313.72,251.27 313.96,265.35 314.2,246.8 314.44,267.43 314.68,253.62 314.92,257.62 315.16,259.34 315.4,255.23 315.64,266.49 315.88,251.01 316.12,267.07 316.36,258.51 316.6,257.15 316.84,257.03 317.08,255.98 317.32,266.16 317.56,253.22 317.8,267.17 318.04,254.64 318.28,265.45 318.52,255.5 318.76,259.36 319,255.46 319.24,264.77 319.48,254.56 319.72,262.92 319.96,260.01 320.2,258.17 320.44,251.43 320.68,258.47 320.92,255.99 321.16,261.79 321.4,259.1 321.64,263.8 321.88,254.89 322.12,261.81 322.36,258.65 322.6,266.25 322.84,255.66 323.08,263.94 323.32,256.87 323.56,267.84 323.79,259.41 324.03,266.58 324.27,255.51 324.51,265.53 324.75,259.76 324.99,260 325.23,263.72 325.47,256.9 325.71,260.94 325.95,258.97 326.19,268.02 326.43,255.89 326.67,264.65 326.91,259.77 327.15,260.29 327.39,265.46 327.63,255.3 327.87,263.22 328.11,259.09 328.35,265.06 328.59,262.96 328.83,257.56 329.07,263.9 329.31,256.52 329.55,265.02 329.79,259.9 330.03,260.51 330.27,266.71 330.51,257.48 330.75,259.26 330.99,263.03 331.23,258.6 331.47,265.86 331.71,260.11 331.95,263.25 332.19,265.95 332.43,259.38 332.67,263.42 332.91,263.32 333.15,262.21 333.39,263.67 333.63,262.75 333.87,261.89 334.11,265.71 334.35,261.54 334.59,259.58 334.83,267.52 335.07,262.77 335.31,260.42 335.55,265.76 335.79,261.69 336.03,262.95 336.27,267.48 336.51,259.39 336.75,264.37 336.99,267.13 337.23,260.83 337.47,259.99 337.71,263.52 337.95,264.62 338.19,260.78 338.43,265.53 338.67,264.56 338.91,263.32 339.15,265.21 339.39,264.26 339.63,262.88 339.87,262.92 340.11,264.82 340.35,264.19 340.59,259.81 340.83,264.27 341.07,265.72 341.31,264.09 341.55,262.22 341.79,266.21 342.03,266.08 342.27,263.12 342.51,265.14 342.75,265.94 342.99,264.79 343.23,263.43 343.47,265.52 343.71,265.93 343.95,263.29 344.19,262.97 344.43,262.51 344.67,264.8 344.91,262.77 345.15,263.63 345.39,263.81 345.63,261.88 345.87,260.96 346.11,264.34 346.35,263.4 346.59,266.37 346.83,259.86 347.07,264.02 347.31,263.13 347.55,266.03 347.78,262.96 348.02,265.93 348.26,263.2 348.5,261.23 348.74,265.12 348.98,264.35 349.22,263.75 349.46,263.82 349.7,261.42 349.94,266.03 350.18,264.55 350.42,264.21 350.66,263.78 350.9,264.52 351.14,265.9 351.38,266.45 351.62,265.18 351.86,263.49 352.1,263.09 352.34,264.81 352.58,262.3 352.82,265.16 353.06,264.91 353.3,264.16 353.54,264.64 353.78,264.75 354.02,262.87 354.26,266.31 354.5,263.82 354.74,260.57 354.98,263.47 355.22,264.59 355.46,264.19 355.7,265.32 355.94,262.29 356.18,263.89 356.42,263.24 356.66,264.71 356.9,266.22 357.14,263.08 357.38,264.79 357.62,265.16 357.86,265.67 358.1,265.67 358.34,265.98 358.58,265.09 358.82,264.3 359.06,261.9 359.3,264.63 359.54,262.98 359.78,261.85 360.02,265.13 360.26,264.49 360.5,261.75 360.74,260.68 360.98,260.58 361.22,265.12 361.46,261.18 361.7,261.35 361.94,266.69 362.18,264.97 362.42,264.93 362.66,264.41 362.9,266.48 363.14,266.42 363.38,265.52 363.62,265.06 363.86,262.37 364.1,264.16 364.34,264.31 364.58,264.71 364.82,264.56 365.06,266.48 365.3,261 365.54,261.32 365.78,264.44 366.02,264.26 366.26,262.33 366.5,266.28 366.74,262.39 366.98,264.4 367.22,266.48 367.46,262.53 367.7,264.63 367.94,266.03 368.18,265.85 368.42,264.18 368.66,264.6 368.9,261.57 369.14,265.07 369.38,266.25 369.62,262.15 369.86,265.92 370.1,262.44 370.34,264.86 370.58,263.89 370.82,265.17 371.06,260.66 371.3,266.56 371.54,265.49 371.77,262.7 372.01,266.62 372.25,266.62 372.49,263.07 372.73,261.47 372.97,264.89 373.21,265.22 373.45,262.65 373.69,266.6 373.93,261.26 374.17,263.76 374.41,264.86 374.65,265.94 374.89,265.15 375.13,264.86 375.37,264.07 375.61,265.76 375.85,264.77 376.09,264.72 376.33,265.54 376.57,265.34 376.81,265.66 377.05,265.21 377.29,265.02 377.53,266.45 377.77,262.64 378.01,261.24 378.25,261.75 378.49,266.64 378.73,263.91 378.97,265.5 379.21,262.18 379.45,264.66 379.69,265.51 379.93,266.06 380.17,265.75 380.41,264.86 380.65,265.16 380.89,265.5 381.13,263.26 381.37,260.88 381.61,264.43 381.85,263.3 382.09,259.55 382.33,265.49 382.57,265.3 382.81,264.83 383.05,263.16 383.29,264.06 383.53,261.28 383.77,261.12 384.01,260.93 384.25,263.58 384.49,263.18 384.73,263.45 384.97,262.03 385.21,264.82 385.45,262.69 385.69,265.86 385.93,263.06 386.17,264.18 386.41,266.51 386.65,262.32 386.89,264.82 387.13,262.51 387.37,265.4 387.61,266.67 387.85,264.84 388.09,264.6 388.33,266.12 388.57,263.32 388.81,265.35 389.05,266.44 389.29,266.76 389.53,265 389.77,266.35 390.01,264.69 390.25,264.19 390.49,259.75 390.73,265.73 390.97,261.94 391.21,265.43 391.45,263.57 391.69,265.24 391.93,261.1 392.17,263.34 392.41,265.1 392.65,262.55 392.89,261.04 393.13,264.68 393.37,265.35 393.61,265.19 393.85,262.86 394.09,263.24 394.33,265.55 394.57,266.77 394.81,265.38 395.05,265.71 395.29,263.58 395.53,260.65 395.76,265.63 396,263.58 396.24,264.02 396.48,261.45 396.72,265.14 396.96,263.98 397.2,263.17 397.44,264.61 397.68,263.77 397.92,267.05 398.16,264.25 398.4,262.73 398.64,264.44 398.88,263.71 399.12,265.39 399.36,260.51 399.6,263.62 399.84,265.86 400.08,264.54 400.32,263.24 400.56,262.06 400.8,265.94 401.04,258.73 401.28,263.08 401.52,265.93 401.76,267.07 402,259.01 402.24,264.34 402.48,264.53 402.72,264.97 402.96,262.68 403.2,264.09 403.44,264.16 403.68,261.5 403.92,261.96 404.16,263.69 404.4,263.04 404.64,261.87 404.88,262.14 405.12,264.87 405.36,263.38 405.6,263.18 405.84,266.26 406.08,262.91 406.32,264.84 406.56,266.04 406.8,263.04 407.04,263.96 407.28,262.52 407.52,262.09 407.76,260.63 408,265.11 408.24,262.95 408.48,260.67 408.72,265.76 408.96,262.31 409.2,264.17 409.44,265.33 409.68,259.72 409.92,264.17 410.16,262.38 410.4,260.9 410.64,265.28 410.88,265.04 411.12,260.99 411.36,265.76 411.6,258.09 411.84,258.29 412.08,266.24 412.32,258.56 412.56,265.82 412.8,260.57 413.04,261.35 413.28,266.66 413.52,260.1 413.76,263.42 414,264.56 414.24,259.71 414.48,264.87 414.72,256.77 414.96,262.56 415.2,263.66 415.44,256.76 415.68,267.91 415.92,256.38 416.16,264.5 416.4,261.83 416.64,257.02 416.88,264.88 417.12,257.64 417.36,267.27 417.6,259.65 417.84,265.72 418.08,257.36 418.32,262.54 418.56,260.33 418.8,258.61 419.04,265.01 419.28,255.88 419.52,266.56 419.75,257.2 419.99,265.13 420.23,255 420.47,265.52 420.71,255.18 420.95,265.47 421.19,254.73 421.43,264.17 421.67,257.21 421.91,262.4 422.15,255.75 422.39,262.71 422.63,259.03 422.87,263.17 423.11,259.81 423.35,260.89 423.59,258.05 423.83,264.49 424.07,252.84 424.31,262.33 424.55,253.9 424.79,266.33 425.03,250.55 425.27,266.76 425.51,248.52 425.75,264.16 425.99,250.6 426.23,265.6 426.47,256.5 426.71,260.22 426.95,260.75 427.19,249.53 427.43,262.41 427.67,250.83 427.91,266.92 428.15,250.78 428.39,261.5 428.63,260.24 428.87,253.37 429.11,267.16 429.35,248.01 429.59,265.12 429.83,257.63 430.07,258.25 430.31,267.54 430.55,247.45 430.79,264.16 431.03,257.04 431.27,251.35 431.51,267.42 431.75,245.05 431.99,257.49 432.23,258.77 432.47,238.4 432.71,259.16 432.95,256.38 433.19,248.9 433.43,264.03 433.67,252.8 433.91,241.94 434.15,266.4 434.39,257.26 434.63,242.13 434.87,265.71 435.11,254.53 435.35,235.08 435.59,260.16 435.83,261.44 436.07,234.95 436.31,248.74 436.55,267.87 436.79,246.57 437.03,242.73 437.27,262.24 437.51,260.27 437.75,236.54 437.99,240.18 438.23,265.51 438.47,251.56 438.71,223.8 438.95,237.96 439.19,259.15 439.43,265.38 439.67,235.97 439.91,217.42 440.15,237.67 440.39,263.25 440.63,260.85 440.87,226.47 441.11,209.17 441.35,224.51 441.59,250.74 441.83,268.22 442.07,259.78 442.31,231.13 442.55,199.33 442.79,179.55 443.03,177.31 443.27,189.26 443.51,208.15 443.75,227.37 443.98,243.1 444.22,254.42 444.46,264.48 444.7,269.15 444.94,271.17 445.18,272.51 445.42,272.75 445.66,273 445.9,272.52 446.14,273.06 446.38,272.74 446.62,272.64 446.86,272.85 447.1,272.84 447.34,272.63 447.58,272.74 447.82,273.26 448.06,272.69 448.3,273.41 448.54,273.07 448.78,272.74 449.02,273.34 449.26,272.69 449.5,272.43 449.74,272.97 449.98,273.33 450.22,272.55 450.46,273.14 450.7,273.21 450.94,273.19 451.18,273.05 451.42,273.09 451.66,272.5 451.9,273.15 452.14,273.32 452.38,273.3 452.62,273.04 452.86,272.56 453.1,273.25 453.34,272.99 453.58,272.78 453.82,273.01 454.06,273 454.3,273.03 454.54,272.86 454.78,273.11 455.02,272.61 455.26,273.34 455.5,272.73 455.65,272.73" fill="none" stroke="#ff0000" stroke-width="1.4" stroke-linejoin="round"/>
<rect x="287.9" y="166.5" width="167.75" height="116.7" fill="none" stroke="#484848" stroke-width="1"/>
<path d="M287.9 176.5h2.9M287.9 273.3h2.9M287.9 224.9h1.7M299.8 283.2v-2.9M371.77 283.2v-2.9M443.75 283.2v-2.9M335.79 283.2v-1.7M407.76 283.2v-1.7" stroke="#484848" stroke-width="1" fill="none"/>
<text transform="translate(299.8,294.5) scale(0.89,1)" class="tl" text-anchor="middle">-300</text>
<text transform="translate(371.77,294.5) scale(0.89,1)" class="tl" text-anchor="middle">0</text>
<text transform="translate(443.75,294.5) scale(0.89,1)" class="tl" text-anchor="middle">300</text>
<text transform="translate(285.2,180.2) scale(0.89,1)" class="tl" text-anchor="end">0.003</text>
<text transform="translate(285.2,276.8) scale(0.89,1)" class="tl" text-anchor="end">0.000</text>
<text x="411.5" y="181.9" class="tag">(d)</text>
<text x="371.27" y="308.5" class="xl" text-anchor="middle">m</text>
<g transform="translate(26.5,119) rotate(-90)"><text x="0" y="-1" class="yl" style="font-size:17.5px;stroke:none" transform="scale(1.38,1) skewX(-7)">ρ</text><text x="10.5" y="7.3" class="ys">E</text><text x="17.5" y="12.4" class="yss">ρ</text><text x="20.4" y="-10.2" class="ys">T</text><text x="28" y="0.5" class="yl"><tspan class="up" dy="-0.8">(</tspan><tspan dy="0.8">m,t</tspan><tspan class="up" dy="-0.8">)</tspan></text></g>
<g transform="translate(31.5,260.85) rotate(-90)"><text x="0" y="-1" class="yl" style="font-size:17.5px;stroke:none" transform="scale(1.38,1) skewX(-7)">ρ</text><text x="10.5" y="7.3" class="ys">E</text><text x="17.5" y="12.4" class="yss">ρ</text><text x="21.15" y="-10.2" class="ys">S</text><text x="27.6" y="0.5" class="yl"><tspan class="up" dy="-0.8">(</tspan><tspan dy="0.8">m,t</tspan><tspan class="up" dy="-0.8">)</tspan></text></g>
<g transform="translate(252.1,119) rotate(-90)"><text x="1.0" y="0.5" class="yl" style="font-size:20px">C</text><text x="14.3" y="7.9" class="ys">E</text><text x="21" y="-10.1" class="ys">T</text><text x="28.3" y="0.5" class="yl"><tspan class="up" dy="-0.8">(</tspan><tspan dy="0.8">m,t</tspan><tspan class="up" dy="-0.8">)</tspan></text></g>
<g transform="translate(257.1,254.9) rotate(-90)"><text x="1.0" y="0.5" class="yl" style="font-size:20px">C</text><text x="14.3" y="7.9" class="ys">E</text><text x="21.75" y="-10.1" class="ys">S</text><text x="28" y="0.5" class="yl"><tspan class="up" dy="-0.8">(</tspan><tspan dy="0.8">m,t</tspan><tspan class="up" dy="-0.8">)</tspan></text></g>
</svg>
</body></html>
